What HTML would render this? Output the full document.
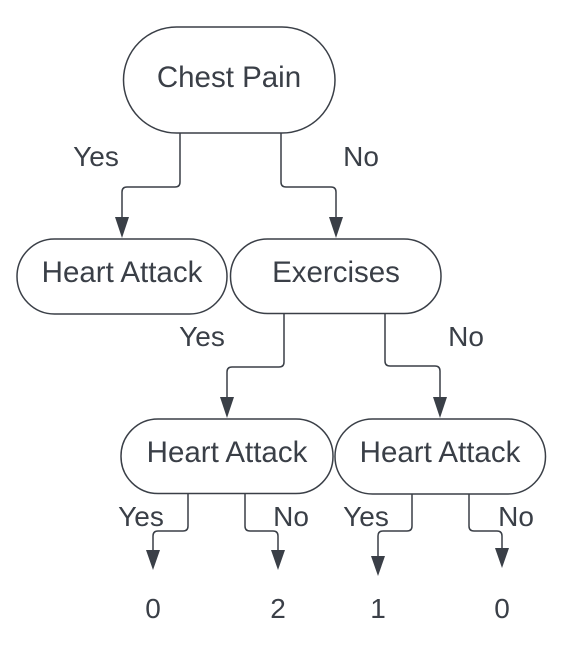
<!DOCTYPE html>
<html><head><style>
html,body{margin:0;padding:0;background:#fff;}
svg text{font-family:"Liberation Sans",Arial,sans-serif;fill:#3a3f47;}
</style></head><body>
<svg width="574" height="642" viewBox="0 0 574 642" xmlns="http://www.w3.org/2000/svg">
<g fill="#fff" stroke="#3a3f47" stroke-width="1.5">
<rect x="123.5" y="27" width="211.5" height="106" rx="53"/>
<rect x="17" y="239" width="210" height="75" rx="37.5"/>
<rect x="230.5" y="239" width="210.5" height="74.5" rx="37"/>
<rect x="121" y="419" width="212" height="74.5" rx="37"/>
<rect x="335" y="419" width="210.5" height="75" rx="37.5"/>
</g>
<g fill="none" stroke="#3a3f47" stroke-width="1.5">
<path d="M180 133 V182 Q180 187 175 187 H127 Q122 187 122 192 V222"/>
<path d="M281 133 V182 Q281 187 286 187 H331 Q336 187 336 192 V222"/>
<path d="M284 313 V362 Q284 367 279 367 H232 Q227 367 227 372 V402"/>
<path d="M385 313 V361 Q385 366 390 366 H435 Q440 366 440 371 V402"/>
<path d="M188 494 V526 Q188 531 183 531 H158 Q153 531 153 536 V555"/>
<path d="M245 494 V526 Q245 531 250 531 H273 Q278 531 278 536 V555"/>
<path d="M412 494 V526 Q412 531 407 531 H383 Q378 531 378 536 V561"/>
<path d="M469 494 V526 Q469 531 474 531 H497 Q502 531 502 536 V553"/>
</g>
<g fill="#3a3f47">
<path d="M115 217 H129 L122 238 Z"/>
<path d="M329 217 H343 L336 238 Z"/>
<path d="M220 397 H234 L227 418 Z"/>
<path d="M433 397 H447 L440 418 Z"/>
<path d="M146 550 H160 L153 570 Z"/>
<path d="M271 550 H285 L278 570 Z"/>
<path d="M371 556 H385 L378 576 Z"/>
<path d="M495 548 H509 L502 568 Z"/>
</g>
<g font-size="29.5" text-anchor="middle">
<text x="229" y="87">Chest Pain</text>
<text x="122" y="282">Heart Attack</text>
<text x="336" y="282">Exercises</text>
<text x="227" y="462">Heart Attack</text>
<text x="440" y="462">Heart Attack</text>
</g>
<g font-size="28" text-anchor="middle">
<text x="96" y="166">Yes</text>
<text x="361" y="166">No</text>
<text x="202" y="346">Yes</text>
<text x="466" y="346">No</text>
<text x="141" y="526">Yes</text>
<text x="291" y="526">No</text>
<text x="366" y="526">Yes</text>
<text x="516" y="526">No</text>
<text x="153" y="618">0</text>
<text x="278" y="618">2</text>
<text x="378" y="618">1</text>
<text x="502" y="618">0</text>
</g>
</svg>
</body></html>
